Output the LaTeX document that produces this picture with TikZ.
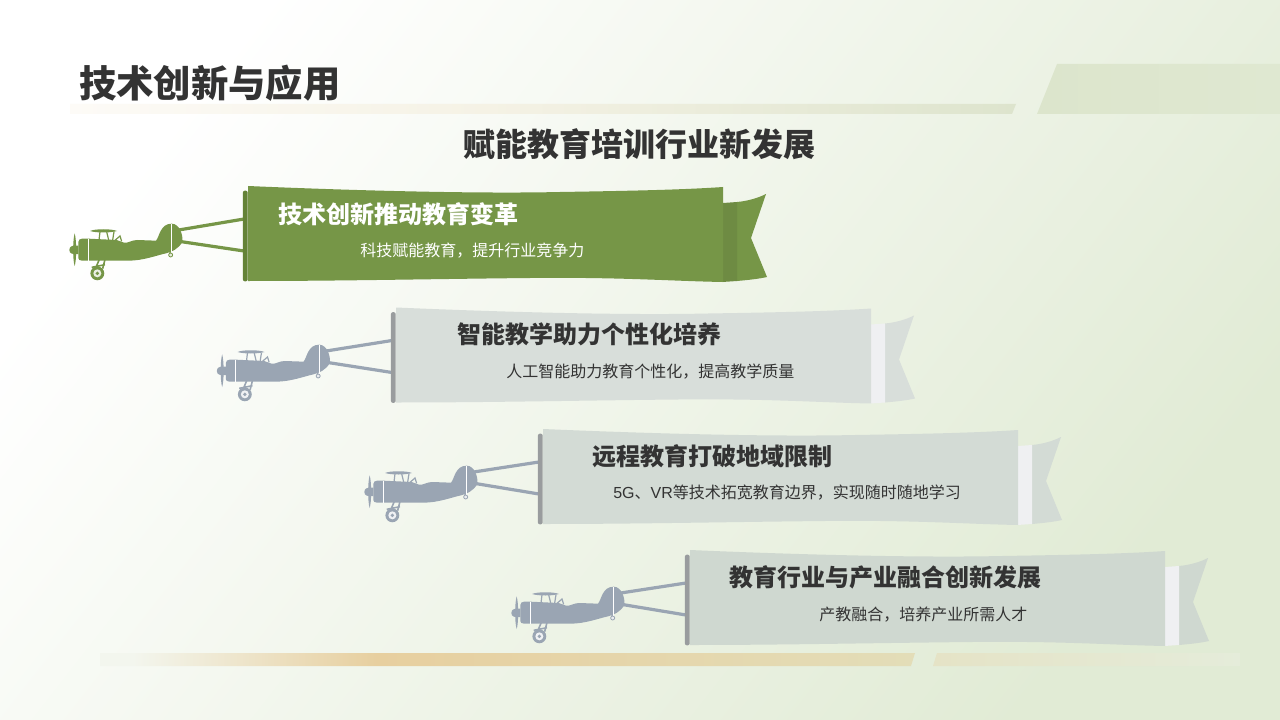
\documentclass[tikz,border=0pt]{standalone}
\usepackage{fontspec}
\setmainfont{Noto Sans CJK SC}
\newfontfamily\latinf{Liberation Sans}
\definecolor{bgA}{HTML}{FFFFFF}
\definecolor{bgC}{HTML}{E1EBD5}
\definecolor{inkd}{HTML}{333333}
\definecolor{leaf}{HTML}{769647}
\definecolor{leafd}{HTML}{648237}
\definecolor{leaffold}{HTML}{6E8B43}
\definecolor{slate}{HTML}{9AA5B3}
\definecolor{polegray}{HTML}{999C9E}
\definecolor{bannerb}{HTML}{D8DEDA}
\definecolor{bannerc}{HTML}{D3DBD5}
\definecolor{bannerd}{HTML}{CFD8D0}
\definecolor{foldgray}{HTML}{EFF0F2}
\definecolor{sandA}{HTML}{E7CF9F}
\definecolor{sandB}{HTML}{E3DDB8}
\definecolor{sandC}{HTML}{E5E3C6}
\definecolor{sandD}{HTML}{E5ECDA}
\definecolor{sandE}{HTML}{F3F6EE}
\definecolor{topA}{HTML}{FDFBF7}
\definecolor{topB}{HTML}{F5F2E5}
\definecolor{topC}{HTML}{DDE4CD}
\definecolor{topD}{HTML}{DCE5CC}
\definecolor{topE}{HTML}{DFE8D1}
\pgfdeclarehorizontalshading{barLow}{100bp}{color(0bp)=(sandE);color(27bp)=(sandE);color(42bp)=(sandA);color(75bp)=(sandB);color(100bp)=(sandB)}
\pgfdeclarehorizontalshading{barLowB}{100bp}{color(0bp)=(sandC);color(25bp)=(sandC);color(75bp)=(sandD);color(100bp)=(sandD)}
\pgfdeclarehorizontalshading{barTop}{100bp}{color(0bp)=(topA);color(25bp)=(topA);color(47bp)=(topB);color(75bp)=(topC);color(100bp)=(topC)}
\pgfdeclarehorizontalshading{barTopB}{100bp}{color(0bp)=(topD);color(25bp)=(topD);color(75bp)=(topE);color(100bp)=(topE)}
\tikzset{
  headtext/.style={font=\bfseries\fontsize{18pt}{20pt}\selectfont,text=inkd,anchor=west,inner sep=0pt},
  subtext/.style={font=\fontsize{12pt}{14pt}\selectfont,text=inkd,anchor=west,inner sep=0pt},
  polebar/.style={rectangle,rounded corners=1.5pt,minimum width=3.6pt,minimum height=68pt,inner sep=0pt},
  rope/.style={line width=2.4pt},
  wirepart/.style={line width=.9pt},
}
% #1 colour, #2 offset x, #3 offset y, #4 name prefix
\newcommand{\planeart}[4]{%
\begin{scope}[shift={(60+#2,180+#3)},x=.25pt,y=-.25pt]
  \fill[#1] (55,186) .. controls (55,180) and (60,176) .. (66,176) -- (85,176)
    -- (170,180) -- (192,188) .. controls (205,190) and (215,180) .. (232,180)
    -- (288,182) .. controls (298,172) and (300,131) .. (335,131)
    .. controls (358,131) and (370,165) .. (367,186) .. controls (355,207) and (335,216) .. (318,220)
    .. controls (290,226) and (250,242) .. (205,242) -- (66,242) .. controls (58,242) and (55,238) .. (55,234) -- cycle;
  \draw[white,line width=.6pt] (85,176) -- (85,242);
  \draw[white,line width=.6pt] (335,131) -- (335,220);
  \fill[#1] (40,197) .. controls (30,199) and (27,207) .. (28,210) .. controls (27,213) and (30,221) .. (40,222) -- (55,222) -- (55,197) -- cycle;
  \fill[#1] (44,160) .. controls (50,180) and (50,240) .. (44,258) .. controls (38,240) and (38,180) .. (44,160) -- cycle;
  \fill[#1] (90,153) .. controls (105,146) and (155,146) .. (171,153) .. controls (150,159) and (110,159) .. (90,153) -- cycle;
  \draw[#1,wirepart] (120,155) -- (117,180) (140,155) -- (146,180) (162,155) -- (158,180);
  \draw[#1,wirepart] (165,181) -- (180,168) -- (185,184);
  \draw[#1,line width=1.2pt] (118,238) -- (108,262) (135,238) -- (128,266) (95,262) -- (135,254);
  \fill[#1] (112,280) circle[radius=5.2pt];
  \fill[white!85!#1] (112,280) circle[radius=3pt];
  \fill[#1] (112,280) circle[radius=1.4pt];
  \draw[#1,wirepart] (329,214) -- (332,222);
  \draw[#1,line width=.6pt,fill=white!80!#1] (332,225) circle[radius=1.5pt];
  \coordinate (#4r1) at (356,150);
  \coordinate (#4r2) at (364,185);
\end{scope}}
% #1 main, #2 fold, #3 flag, #4 pole, #5 rope, #6 dx, #7 dy, #8 prefix
\newcommand{\bannerart}[8]{%
\begin{scope}[shift={(#6,#7)}]
  \fill[#3] (737,202) .. controls (748,201) and (758,198) .. (766,194) -- (751,238) -- (767,277) .. controls (758,279) and (748,280) .. (737,281) -- cycle;
  \fill[#2] (723,203) -- (737,202) -- (737,281) -- (722,282) -- cycle;
  \fill[#1] (248,186) .. controls (340,190) and (470,194) .. (560,192) .. controls (620,191) and (680,190) .. (723,187)
    -- (723,282) .. controls (670,281) and (620,277) .. (530,278) .. controls (430,279) and (340,281) .. (248,281) -- cycle;
  \coordinate (#8a) at (244,219);
  \coordinate (#8b) at (244,251);
  \draw[#5,rope] (#8r1) -- (#8a);
  \draw[#5,rope] (#8r2) -- (#8b);
  \node[polebar,fill=#4] (#8pole) at (245.3,236) {};
\end{scope}}
\begin{document}
\begin{tikzpicture}[x=.75pt,y=-.75pt]
\useasboundingbox (0,0) rectangle (1280,720);
\clip (0,0) rectangle (1280,720);
\shade[left color=bgA,right color=bgC,shading angle=52] (0,0) rectangle (1280,720);
% decorations
\shade[shading=barTop] (70,104) -- (1016,104) -- (1012,114) -- (70,114) -- cycle;
\shade[shading=barTopB] (1057,64) -- (1280,64) -- (1280,114) -- (1037,114) -- cycle;
\shade[shading=barLow] (100,653) -- (915,653) -- (911,666) -- (100,666) -- cycle;
\shade[shading=barLowB] (937,653) -- (1240,653) -- (1240,666) -- (933,666) -- cycle;
% titles
\node[font=\bfseries\fontsize{28pt}{30pt}\selectfont,text=inkd,anchor=west,inner sep=0pt] (title) at (79,83) {技术创新与应用};
\node[font=\bfseries\fontsize{24pt}{26pt}\selectfont,text=inkd,inner sep=0pt] (subtitle) at (639,144) {赋能教育培训行业新发展};
% plane 1
\planeart{leaf}{0}{0}{a}
\bannerart{leaf}{leaffold}{leaf}{leafd}{leaf}{0}{0}{a}
\node[headtext,text=white] (h1) at (278,214) {技术创新推动教育变革};
\node[subtext,text=white] (s1) at (360,251) {科技赋能教育，提升行业竞争力};
% plane 2
\planeart{slate}{147.5}{121}{b}
\bannerart{bannerb}{foldgray}{bannerb}{polegray}{slate}{148}{121.5}{b}
\node[headtext] (h2) at (457,334) {智能教学助力个性化培养};
\node[subtext] (s2) at (506,372) {人工智能助力教育个性化，提高教学质量};
% plane 3
\planeart{slate}{295}{242}{c}
\bannerart{bannerc}{foldgray}{bannerc}{polegray}{slate}{295}{243}{c}
\node[headtext] (h3) at (592,456) {远程教育打破地域限制};
\node[subtext] (s3) at (613,493) {{\latinf 5G}、{\latinf VR}等技术拓宽教育边界，实现随时随地学习};
% plane 4
\planeart{slate}{442}{363}{d}
\bannerart{bannerd}{foldgray}{bannerd}{polegray}{slate}{442}{364}{d}
\node[headtext] (h4) at (729,577) {教育行业与产业融合创新发展};
\node[subtext] (s4) at (819,615) {产教融合，培养产业所需人才};
\end{tikzpicture}
\end{document}
